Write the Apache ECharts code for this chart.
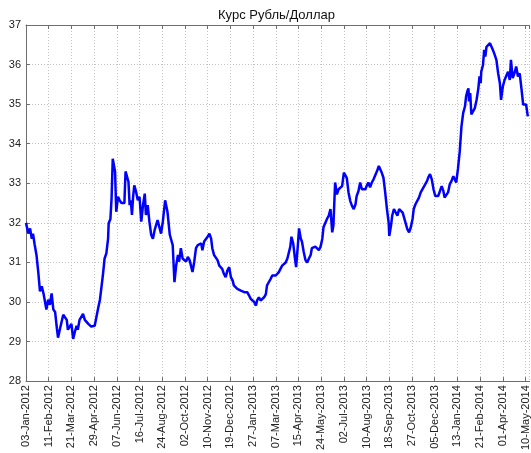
<!DOCTYPE html>
<html>
<head>
<meta charset="utf-8">
<script src="https://cdn.jsdelivr.net/npm/echarts@6/dist/echarts.min.js"></script>
<style>
  html, body { margin: 0; padding: 0; background: #fff; }
  #main { width: 531px; height: 453px; }
</style>
</head>
<body>
<div id="main"></div>
<script>
// дни от 03-Jan-2012
var days = [0, 4, 7, 10, 12, 15, 18, 21, 24, 27, 30, 32, 35, 38, 41, 44, 47, 50, 53, 55,
  58, 61, 64, 67, 70, 72, 75, 78, 81, 84, 87, 89, 92, 95, 98, 101, 104, 107, 109, 112,
  115, 118, 121, 124, 127, 129, 132, 135, 138, 141, 142, 145, 147, 149, 151, 153, 155, 158, 161, 164,
  166, 169, 171, 173, 176, 178, 180, 182, 184, 186, 189, 192, 195, 198, 201, 204, 206, 209, 212, 215,
  218, 221, 224, 226, 232, 235, 239, 243, 247, 252, 255, 258, 261, 263, 266, 269, 272, 275, 278, 281,
  283, 286, 289, 292, 295, 298, 301, 303, 306, 309, 312, 315, 318, 320, 323, 326, 329, 332, 335, 337,
  340, 343, 346, 349, 352, 355, 357, 360, 363, 366, 369, 372, 375, 377, 380, 383, 386, 389, 392, 395,
  397, 400, 403, 406, 409, 412, 414, 417, 420, 423, 426, 429, 432, 434, 437, 440, 443, 446, 449, 452,
  454, 456, 459, 462, 464, 467, 469, 472, 474, 477, 480, 483, 486, 489, 491, 494, 497, 500, 503, 506,
  509, 511, 514, 517, 520, 523, 526, 528, 531, 534, 537, 540, 543, 546, 548, 551, 554, 557, 560, 563,
  566, 568, 571, 574, 577, 580, 583, 585, 588, 591, 594, 597, 600, 603, 606, 608, 611, 614, 617, 620,
  623, 624, 627, 629, 632, 635, 638, 641, 644, 647, 649, 652, 655, 658, 661, 664, 666, 669, 672, 675,
  678, 681, 684, 686, 689, 691, 694, 697, 700, 703, 705, 708, 711, 714, 717, 719, 722, 725, 728, 731,
  734, 737, 739, 742, 745, 748, 751, 754, 756, 758, 760, 761, 763, 765, 768, 771, 774, 777, 779, 781,
  782, 785, 787, 789, 791, 794, 797, 799, 802, 805, 808, 811, 814, 816, 819, 822, 825, 828, 831, 833,
  836, 839, 842, 845, 848, 851, 854, 857, 859, 862];

var rates = [32.0, 31.73, 31.86, 31.6, 31.73, 31.44, 31.19, 30.77, 30.27, 30.4, 30.22, 30.22, 29.81, 30.06, 29.93, 30.22, 29.81, 29.75, 29.34, 29.1,
  29.3, 29.34, 29.68, 29.64, 29.55, 29.3, 29.25, 29.45, 29.07, 29.25, 29.4, 29.3, 29.55, 29.6, 29.7, 29.55, 29.55, 29.45, 29.5, 29.38,
  29.33, 29.4, 29.45, 29.85, 30.06, 30.3, 30.67, 31.1, 31.23, 31.6, 31.99, 32.1, 32.62, 33.62, 33.66, 33.29, 32.28, 32.66, 32.57, 32.5,
  32.45, 32.5, 33.3, 33.3, 33.04, 32.45, 32.57, 32.2, 32.66, 32.95, 32.79, 32.57, 32.66, 32.03, 32.45, 32.74, 32.2, 32.45, 32.03, 31.7,
  31.6, 31.82, 31.86, 32.07, 31.73, 32.03, 32.57, 32.28, 31.7, 31.44, 30.5, 30.93, 31.19, 31.02, 31.36, 31.1, 31.14, 31.02, 31.14, 31.06,
  31.1, 30.76, 31.02, 31.36, 31.44, 31.4, 31.48, 31.31, 31.53, 31.57, 31.65, 31.73, 31.6, 31.36, 31.19, 31.14, 31.06, 30.92, 30.88, 30.84,
  30.71, 30.63, 30.8, 30.88, 30.63, 30.54, 30.42, 30.38, 30.33, 30.29, 30.29, 30.33, 30.25, 30.29, 30.25, 30.17, 30.08, 30.12, 30.0, 29.91,
  30.04, 30.12, 30.04, 30.08, 30.12, 30.2, 30.42, 30.5, 30.58, 30.67, 30.71, 30.67, 30.71, 30.75, 30.8, 30.92, 30.88, 31.0, 31.1, 31.06,
  31.4, 31.65, 31.48, 31.1, 30.88, 31.44, 31.86, 31.6, 31.53, 31.27, 31.06, 31.0, 31.1, 31.19, 31.36, 31.4, 31.4, 31.44, 31.31, 31.4,
  31.6, 31.89, 31.93, 32.1, 32.18, 32.35, 31.76, 31.93, 33.02, 32.72, 32.85, 32.8, 32.93, 33.27, 33.27, 33.14, 32.77, 32.55, 32.43, 32.35,
  32.47, 32.68, 32.8, 33.02, 32.85, 32.9, 32.85, 32.93, 33.02, 32.9, 33.02, 33.1, 33.14, 33.31, 33.44, 33.48, 33.27, 33.14, 32.77, 32.35,
  32.0, 31.67, 31.93, 32.18, 32.35, 32.3, 32.18, 32.35, 32.35, 32.26, 32.3, 32.0, 31.84, 31.76, 31.89, 32.1, 32.35, 32.47, 32.43, 32.64,
  32.77, 32.72, 32.93, 32.9, 33.06, 33.15, 33.23, 33.1, 32.85, 32.68, 32.72, 32.68, 32.8, 32.93, 32.8, 32.64, 32.6, 32.77, 32.98, 33.06,
  33.18, 33.23, 33.02, 33.37, 33.8, 34.44, 34.78, 34.94, 35.2, 35.32, 35.4, 35.07, 35.28, 34.74, 34.69, 34.9, 35.11, 35.4, 35.7, 35.53,
  35.82, 35.99, 36.37, 36.2, 36.45, 36.41, 36.54, 36.58, 36.37, 36.25, 36.12, 35.78, 35.53, 35.11, 35.44, 35.61, 35.66, 35.82, 35.61, 36.12,
  35.66, 35.78, 35.95, 35.7, 35.78, 35.4, 34.99, 34.94, 34.99, 34.69];

var tickLabels = ['03-Jan-2012', '11-Feb-2012', '21-Mar-2012', '29-Apr-2012', '07-Jun-2012', '16-Jul-2012',
  '24-Aug-2012', '02-Oct-2012', '10-Nov-2012', '19-Dec-2012', '27-Jan-2013', '07-Mar-2013', '15-Apr-2013',
  '24-May-2013', '02-Jul-2013', '10-Aug-2013', '18-Sep-2013', '27-Oct-2013', '05-Dec-2013', '13-Jan-2014',
  '21-Feb-2014', '01-Apr-2014', '10-May-2014'];
var tickStep = 39; // дней между подписями

var chart = echarts.init(document.getElementById('main'));
var font = 'Liberation Sans, Arial, sans-serif';
var axisColor = '#6e6e6e';
var gridLine = { show: true, lineStyle: { color: '#c4c4c4', type: [1, 2], width: 1 } };

chart.setOption({
  animation: false,
  textStyle: { fontFamily: font },
  title: {
    text: 'Курс Рубль/Доллар',
    left: 213,
    top: 4,
    textStyle: { fontSize: 13, fontWeight: 'normal', color: '#111', fontFamily: font }
  },
  grid: { left: 26, right: 0, top: 25, bottom: 70, containLabel: false },
  xAxis: [{
    type: 'value',
    min: 0,
    max: 865,
    interval: tickStep,
    position: 'bottom',
    axisLine: { show: true, onZero: false, lineStyle: { color: axisColor } },
    axisTick: { show: true, inside: true, length: 4, lineStyle: { color: axisColor } },
    axisLabel: {
      rotate: 90,
      fontSize: 11,
      color: '#222',
      margin: 4,
      showMaxLabel: false,
      formatter: function (v) {
        return v % tickStep === 0 ? (tickLabels[v / tickStep] || '') : '';
      }
    },
    splitLine: gridLine
  }, {
    type: 'value',
    min: 0,
    max: 865,
    interval: tickStep,
    position: 'top',
    axisLine: { show: true, onZero: false, lineStyle: { color: axisColor } },
    axisTick: { show: true, inside: true, length: 4, lineStyle: { color: axisColor } },
    axisLabel: { show: false },
    splitLine: { show: false }
  }],
  yAxis: {
    type: 'value',
    min: 28,
    max: 37,
    interval: 1,
    axisLine: { show: true, lineStyle: { color: axisColor } },
    axisTick: { show: true, inside: true, length: 4, lineStyle: { color: axisColor } },
    axisLabel: { fontSize: 11, color: '#222', margin: 5 },
    splitLine: gridLine
  },
  series: [{
    type: 'line',
    xAxisIndex: 0,
    data: days.map(function (d, i) { return [d, rates[i]]; }),
    showSymbol: false,
    lineStyle: { color: '#0000ff', width: 2.5 },
    itemStyle: { color: '#0000ff' }
  }]
});
</script>
</body>
</html>
